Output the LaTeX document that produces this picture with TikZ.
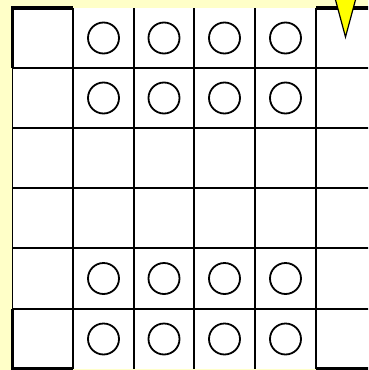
\documentclass[tikz,border=0pt]{standalone}
\usepackage{tikz}
\definecolor{paper}{RGB}{255,255,200}
\definecolor{marker}{RGB}{255,255,0}

\begin{document}
\begin{tikzpicture}[
    x=1pt, y=-1pt,
    gridline/.style={line width=1.9pt, black},
    corner/.style={line width=3.5pt, black},
    stone/.style={line width=1.8pt, black},
    pointer/.style={line width=1.2pt, black, fill=marker, line join=miter}
]
\useasboundingbox (0,0) rectangle (368,370);
\fill[paper] (0,0) rectangle (368,370);
\clip (0,0) rectangle (368,370);

% ---- board ----
\fill[white] (12.5,8) rectangle (380,369);
\foreach \x in {12.5,73,134,194,255,316}
  \draw[gridline] (\x,8) -- (\x,369);
\foreach \y in {68,128,188,248,309}
  \draw[gridline] (12.5,\y) -- (380,\y);

% ---- corner marks ----
\draw[corner] (73,8) -- (12.5,8) -- (12.5,68);
\draw[corner] (12.5,309) -- (12.5,369) -- (73,369);
\draw[corner] (316,8) -- (380,8);
\draw[corner] (316,369) -- (380,369);

% ---- stones ----
\foreach \y in {38,98,278.5,339}
  \foreach \x in {103.5,164,224.5,285.5}
    \draw[stone] (\x,\y) circle (15.5);

% ---- pointer ----
\draw[pointer] (335,-2) -- (345.5,37) -- (356,-2);
\end{tikzpicture}
\end{document}
